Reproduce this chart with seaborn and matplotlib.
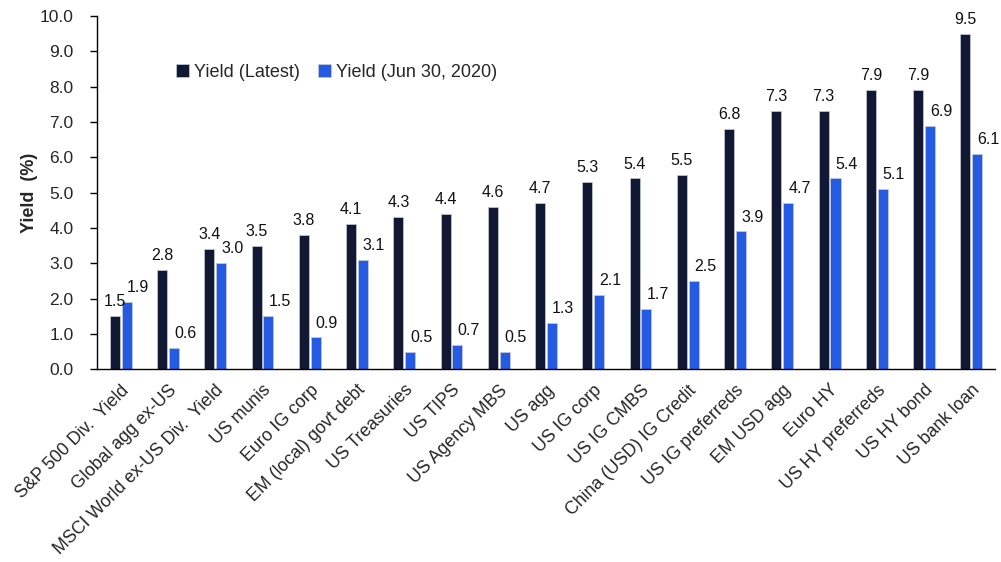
import numpy as np
import pandas as pd
import matplotlib
matplotlib.use("Agg")
import matplotlib.pyplot as plt
import seaborn as sns

# Data
categories = ["S&P 500 Div.  Yield", "Global agg ex-US", "MSCI World ex-US Div.  Yield",
              "US munis", "Euro IG corp", "EM (local) govt debt", "US Treasuries",
              "US TIPS", "US Agency MBS", "US agg", "US IG corp", "US IG CMBS",
              "China (USD) IG Credit", "US IG preferreds", "EM USD agg", "Euro HY",
              "US HY preferreds", "US HY bond", "US bank loan"]
yield_latest = [1.5, 2.8, 3.4, 3.5, 3.8, 4.1, 4.3, 4.4, 4.6, 4.7, 5.3, 5.4, 5.5,
                6.8, 7.3, 7.3, 7.9, 7.9, 9.5]
yield_jun2020 = [1.9, 0.6, 3.0, 1.5, 0.9, 3.1, 0.5, 0.7, 0.5, 1.3, 2.1, 1.7, 2.5,
                 3.9, 4.7, 5.4, 5.1, 6.9, 6.1]
series_names = ["Yield (Latest)", "Yield (Jun 30, 2020)"]
colors = ["#111833", "#255BE3"]

df = pd.DataFrame({
    "Category": categories * 2,
    "Yield": yield_latest + yield_jun2020,
    "Series": [series_names[0]] * len(categories) + [series_names[1]] * len(categories),
})

sns.set_style("white")
plt.rcParams["font.family"] = ["Liberation Sans", "DejaVu Sans"]

fig = plt.figure(figsize=(10.01, 5.62), dpi=100)
ax = fig.add_axes([0.097, 0.343, 0.897, 0.6285])

sns.barplot(data=df, x="Category", y="Yield", hue="Series", palette=colors,
            saturation=1, width=0.5, gap=0.15, ax=ax, edgecolor="#c8ccd8", linewidth=0.5)

# value labels
for i, cont in enumerate(ax.containers):
    for bar, v in zip(cont, [yield_latest, yield_jun2020][i]):
        x = bar.get_x() + bar.get_width() / 2
        dx = 0 if i == 0 else 8
        ax.annotate(f"{v:.1f}", (x, bar.get_height()), xytext=(dx, 5),
                    textcoords="offset points", ha="center", va="bottom",
                    fontsize=11.5, color="#111111")

ax.set_xlim(-0.5, len(categories) - 0.5)
ax.set_ylim(0, 10)
ax.set_yticks(np.arange(0, 10.01, 1.0))
ax.set_yticklabels([f"{t:.1f}" for t in np.arange(0, 10.01, 1.0)], fontsize=12.5)
ax.set_xticks(range(len(categories)))
ax.set_xticklabels(categories, rotation=45, ha="right", rotation_mode="anchor", fontsize=12.8)
ax.set_xticks(np.arange(-0.5, len(categories), 1.0), minor=True)
ax.tick_params(axis="x", which="major", length=0, pad=9)
ax.tick_params(axis="x", which="minor", length=5, direction="out", color="black", width=1)
ax.tick_params(axis="y", which="major", length=5, direction="out", color="black", width=1,
               left=True, pad=12)
ax.set_xlabel("")
ax.set_ylabel("Yield  (%)", fontsize=13, fontweight="bold", labelpad=1)

sns.despine(ax=ax)
for s in ["left", "bottom"]:
    ax.spines[s].set_color("black")
    ax.spines[s].set_linewidth(1)

leg = ax.legend(loc="center left", bbox_to_anchor=(0.07, 0.84), ncol=2, frameon=False,
                fontsize=13, handlelength=0.7, handleheight=0.7, handletextpad=0.3,
                columnspacing=1.0)

fig.savefig("out.png", dpi=100)
